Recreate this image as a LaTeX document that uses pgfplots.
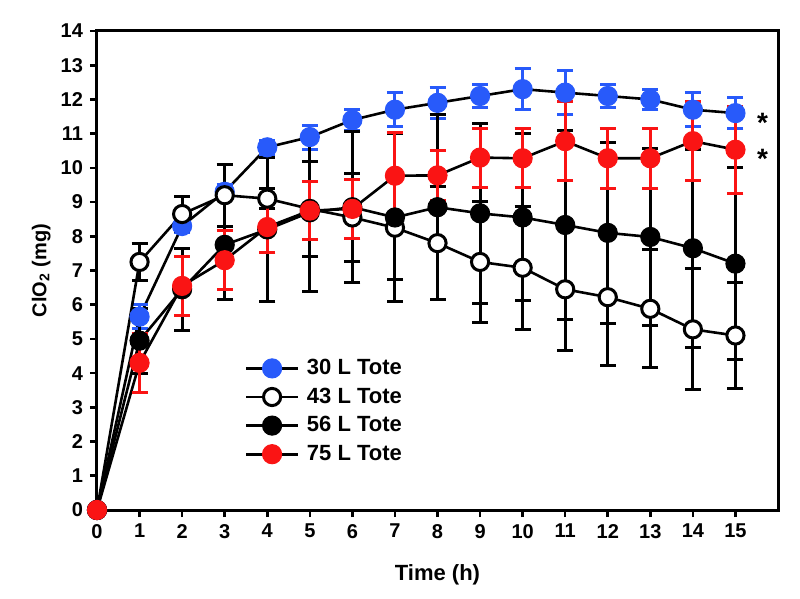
\documentclass[border=0pt]{standalone}
\usepackage{fontspec}
\setmainfont{Liberation Sans}
\usepackage{pgfplots}
\pgfplotsset{compat=1.18}
\usepackage{pgfplotstable}
\definecolor{myblue}{RGB}{40,90,250}
\definecolor{myred}{RGB}{250,20,20}

\pgfplotstableread{
x y e
0 0 0
1 5.65 0.35
2 8.3 0.2
3 9.3 0.2
4 10.6 0.2
5 10.9 0.35
6 11.4 0.3
7 11.7 0.5
8 11.9 0.45
9 12.1 0.35
10 12.3 0.6
11 12.2 0.65
12 12.1 0.35
13 12.0 0.3
14 11.7 0.5
15 11.6 0.45
}\tA
\pgfplotstableread{
x y e
0 0 0
1 7.25 0.55
2 8.65 0.5
3 9.2 0.9
4 9.1 0.3
5 8.8 1.4
6 8.55 1.28
7 8.25 1.5
8 7.8 1.65
9 7.25 1.78
10 7.08 1.8
11 6.45 1.8
12 6.22 2.0
13 5.88 1.72
14 5.28 1.77
15 5.1 1.55
}\tB
\pgfplotstableread{
x y e
0 0 0
1 4.95 0.95
2 6.45 1.2
3 7.75 1.6
4 8.2 2.1
5 8.7 2.3
6 8.85 2.2
7 8.55 2.45
8 8.85 2.7
9 8.67 2.62
10 8.55 2.44
11 8.33 2.75
12 8.1 2.65
13 7.98 2.6
14 7.65 2.9
15 7.2 2.8
}\tC
\pgfplotstableread{
x y e
0 0 0
1 4.3 0.87
2 6.55 0.86
3 7.3 0.86
4 8.27 0.73
5 8.75 0.85
6 8.8 0.87
7 9.77 1.26
8 9.78 0.72
9 10.3 0.86
10 10.28 0.86
11 10.78 1.15
12 10.28 0.87
13 10.28 0.87
14 10.78 1.15
15 10.53 1.27
}\tD

\begin{document}
\begin{tikzpicture}
\begin{axis}[
  scale only axis, width=340.5pt, height=239.5pt,
  xmin=0, xmax=16, ymin=0, ymax=14,
  xtick={0,...,15}, ytick={0,...,14},
  axis line style={line width=1.5pt},
  tick style={line width=1.3pt, black},
  tick align=outside, major tick length=3.5pt,
  xtick pos=bottom, ytick pos=left,
  clip=false,
  tick label style={font=\fontsize{10}{11}\selectfont\bfseries},
  /pgf/number format/assume math mode=true,
  xlabel={Time (h)}, ylabel={ClO\textsubscript{2} (mg)},
  label style={font=\fontsize{10}{12}\selectfont\bfseries},
  xlabel style={at={(axis description cs:0.5,0)}, anchor=north, yshift=-23.5pt, font=\fontsize{11}{12}\selectfont\bfseries},
  ylabel style={at={(axis description cs:-0.0576,0.5)}, anchor=south},
  legend style={at={(axis description cs:0.217,0.3215)}, anchor=north west,
    draw=none, fill=none, inner sep=0pt, column sep=3pt, row sep=2.3pt,
    font=\fontsize{11}{12}\selectfont\bfseries,
    nodes={inner sep=1pt, text height=8pt, text depth=2pt}},
  legend cell align=left,
  legend image code/.code={\draw[mark repeat=2, mark phase=2] plot coordinates {(0pt,0pt) (12.8pt,0pt) (25.6pt,0pt)};},
  every axis plot/.append style={line width=1.3pt, black},
]
\coordinate (bl) at (rel axis cs:0,0);
\coordinate (tr) at (rel axis cs:1,1);
\addplot+[black, mark=*, mark size=4.8pt, mark options={solid, fill=myblue, draw=myblue, line width=0.5pt},
  error bars/.cd, y dir=both, y explicit,
  error bar style={line width=1.5pt, myblue},
  error mark options={rotate=90, mark size=4pt, line width=1.5pt, myblue}]
  table[x=x, y=y, y error=e]{\tA};
\addlegendentry{30 L Tote}
\addplot+[black, mark=*, mark size=4.3pt, mark options={solid, fill=white, draw=black, line width=1.5pt},
  error bars/.cd, y dir=both, y explicit,
  error bar style={line width=1.5pt, black},
  error mark options={rotate=90, mark size=4pt, line width=1.5pt, black}]
  table[x=x, y=y, y error=e]{\tB};
\addlegendentry{43 L Tote}
\addplot+[black, mark=*, mark size=4.8pt, mark options={solid, fill=black, draw=black, line width=0.5pt},
  error bars/.cd, y dir=both, y explicit,
  error bar style={line width=1.5pt, black},
  error mark options={rotate=90, mark size=4pt, line width=1.5pt, black}]
  table[x=x, y=y, y error=e]{\tC};
\addlegendentry{56 L Tote}
\addplot+[black, mark=*, mark size=4.8pt, mark options={solid, fill=myred, draw=myred, line width=0.5pt},
  error bars/.cd, y dir=both, y explicit,
  error bar style={line width=1.5pt, myred},
  error mark options={rotate=90, mark size=4pt, line width=1.5pt, myred}]
  table[x=x, y=y, y error=e]{\tD};
\addlegendentry{75 L Tote}
\node[font=\fontsize{14}{14}\selectfont\bfseries, anchor=base, yshift=-8pt] at (axis cs:15.64,11.5) {*};
\node[font=\fontsize{14}{14}\selectfont\bfseries, anchor=base, yshift=-8pt] at (axis cs:15.64,10.45) {*};
\end{axis}
\pgfresetboundingbox
\path ([xshift=-48.5pt,yshift=-44pt]bl) rectangle ([xshift=11pt,yshift=15.5pt]tr);
\end{tikzpicture}
\end{document}
